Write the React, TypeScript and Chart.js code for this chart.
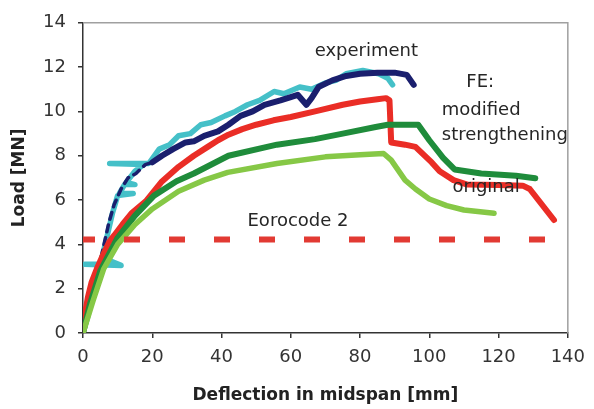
import React, { useEffect, useRef } from "react";
import { Chart, registerables } from "chart.js";

Chart.register(...registerables);

// Axis ranges / ticks
const xMin = 0, xMax = 140, xStep = 20;
const yMin = 0, yMax = 14, yStep = 2;

// FE (red) curve
const redX = [0, 0.5, 1.4, 2.5, 4, 6, 7.7, 9, 11.4, 14, 18.2, 22.8, 27.6, 32, 36, 39, 42, 46, 50, 55, 60, 67, 75, 80, 85, 87.5, 88.5, 89, 93, 96, 100.7, 103, 107, 111, 120, 127, 129, 132, 136];
const redY = [0, 0.8, 1.6, 2.3, 2.9, 3.6, 4.15, 4.4, 4.9, 5.4, 5.95, 6.84, 7.5, 8.0, 8.4, 8.7, 8.95, 9.2, 9.4, 9.6, 9.75, 10.0, 10.3, 10.45, 10.55, 10.6, 10.5, 8.6, 8.5, 8.4, 7.7, 7.3, 6.9, 6.7, 6.68, 6.65, 6.5, 5.9, 5.1];

// FE strengthening (dark green)
const darkGreenX = [0, 2, 5, 10, 15, 20.5, 27, 32, 42, 56, 67, 75, 84.5, 88, 96.8, 100, 104, 107.3, 115, 125, 130.6];
const darkGreenY = [0, 1.3, 2.8, 4.3, 5.3, 6.2, 6.85, 7.2, 8.0, 8.5, 8.75, 9.0, 9.3, 9.4, 9.4, 8.7, 7.9, 7.38, 7.2, 7.1, 6.98];

// FE original (light green)
const lightGreenX = [0, 3, 6, 10, 15, 20, 27.6, 35, 41.8, 56, 70, 80, 86.8, 89, 93, 96, 100, 105, 110, 118.7];
const lightGreenY = [0, 1.5, 2.9, 4.0, 4.9, 5.6, 6.4, 6.9, 7.25, 7.65, 7.95, 8.05, 8.1, 7.8, 6.9, 6.5, 6.05, 5.75, 5.55, 5.4];

// Experiment (navy)
const navyX = [0, 1.5, 3, 4, 5.5, 6.5, 7.5, 9, 11, 13, 15.3, 18, 20, 22.8, 26, 29.6, 32, 35, 39, 42, 45.5, 49, 52.4, 57, 60, 62, 64.5, 66, 68, 72, 76, 80, 85, 90, 93.5, 95.5];
const navyY = [0, 0.8, 1.8, 2.6, 3.6, 4.3, 5.0, 5.8, 6.5, 7.0, 7.2, 7.6, 7.7, 8.0, 8.3, 8.6, 8.65, 8.9, 9.1, 9.4, 9.8, 10.0, 10.3, 10.5, 10.65, 10.75, 10.3, 10.6, 11.1, 11.4, 11.6, 11.7, 11.75, 11.75, 11.65, 11.2];

// Experiment (cyan)
const cyanX = [0, 1.5, 2.5, 3.5, 4.5, 0.5, 11, 5.5, 7, 8.5, 10, 14.5, 10.5, 12, 15, 12.5, 15, 17.5, 7.7, 19, 22, 25, 27.6, 31, 34, 37, 41, 44, 47.5, 51, 55.2, 58, 62.6, 66, 70.3, 73, 76, 80.8, 85.4, 88, 89.4];
const cyanY = [0, 0.8, 1.6, 2.4, 3.1, 3.1, 3.05, 3.4, 4.4, 5.4, 6.2, 6.3, 6.3, 6.7, 6.7, 6.8, 7.3, 7.6, 7.65, 7.65, 8.3, 8.5, 8.9, 9.0, 9.4, 9.5, 9.8, 10.0, 10.3, 10.5, 10.9, 10.8, 11.1, 11.0, 11.3, 11.4, 11.7, 11.85, 11.7, 11.5, 11.2];

// Eurocode 2 level
const eurocodeX = [0, 140];
const eurocodeY = [4.22, 4.22];

// Annotation labels (data coords of left/middle anchor)
const noteTexts = ["experiment", "FE:", "modified", "strengthening", "original", "Eorocode 2"];
const noteX = [66.9, 110.7, 103.6, 103.6, 106.7, 47.5];
const noteY = [12.7, 11.3, 10.06, 8.94, 6.57, 5.05];

const zip = (xs: number[], ys: number[]) => xs.map((x, i) => ({ x, y: ys[i] }));

const FONT = "'DejaVu Sans', sans-serif";

const frameAndNotes = {
  id: "frameAndNotes",
  afterDatasetsDraw(chart: any) {
    const { ctx, chartArea, scales } = chart;
    ctx.save();
    ctx.strokeStyle = "#a0a0a0";
    ctx.lineWidth = 1.5;
    ctx.beginPath();
    ctx.moveTo(chartArea.left, chartArea.top);
    ctx.lineTo(chartArea.right, chartArea.top);
    ctx.lineTo(chartArea.right, chartArea.bottom);
    ctx.stroke();
    ctx.fillStyle = "#262626";
    ctx.font = `18px ${FONT}`;
    ctx.textAlign = "left";
    ctx.textBaseline = "middle";
    noteTexts.forEach((t, i) => {
      const px = scales.x.getPixelForValue(noteX[i]);
      const py = scales.y.getPixelForValue(noteY[i]);
      ctx.fillText(t, px, py);
    });
    ctx.restore();
  },
};

export default function App() {
  const ref = useRef<HTMLCanvasElement>(null);
  useEffect(() => {
    if (!ref.current) return;
    const lineDs = (label: string, xs: number[], ys: number[], color: string, width: number) => ({
      label,
      data: zip(xs, ys),
      borderColor: color,
      backgroundColor: color,
      borderWidth: width,
      pointRadius: 0,
      tension: 0,
      fill: false,
      borderJoinStyle: "round" as const,
      borderCapStyle: "round" as const,
    });
    const chart = new Chart(ref.current, {
      type: "line",
      data: {
        datasets: [
          {
            ...lineDs("Eurocode 2", eurocodeX, eurocodeY, "#e23a33", 6),
            borderDash: [16, 29],
            borderDashOffset: 4,
            borderCapStyle: "butt" as const,
          },
          lineDs("FE original", lightGreenX, lightGreenY, "#86c846", 5.5),
          lineDs("FE strengthening", darkGreenX, darkGreenY, "#1f8c3b", 6),
          lineDs("FE modified", redX, redY, "#ea2d26", 6),
          {
            ...lineDs("experiment 1", navyX, navyY, "#1a1f6e", 6),
            segment: {
              borderWidth: (c: any) => (c.p0.parsed.x < 20 ? 3.5 : 6),
              borderDash: (c: any) => (c.p0.parsed.x < 20 ? [7, 6] : undefined),
            },
          },
          lineDs("experiment 2", cyanX, cyanY, "#45c0c8", 5.5),
        ],
      },
      options: {
        animation: false,
        responsive: true,
        maintainAspectRatio: false,
        layout: { padding: { left: 0, top: 20, right: 19, bottom: 0 } },
        plugins: { legend: { display: false }, tooltip: { enabled: false } },
        scales: {
          x: {
            type: "linear",
            min: xMin,
            max: xMax,
            ticks: { stepSize: xStep, color: "#333", font: { family: FONT, size: 18 }, padding: 9, maxRotation: 0 },
            grid: { drawOnChartArea: false, drawTicks: true, tickLength: 5, color: "#333", lineWidth: 1.5 },
            border: { display: true, color: "#333", width: 1.5 },
            title: {
              display: true,
              text: "Deflection in midspan [mm]",
              color: "#222",
              font: { family: FONT, size: 17, weight: "bold" },
              padding: { top: 0, bottom: 3 },
            },
            afterFit: (s: any) => { s.height = 76; },
          },
          y: {
            type: "linear",
            min: yMin,
            max: yMax,
            ticks: { stepSize: yStep, color: "#333", font: { family: FONT, size: 18 }, padding: 12 },
            grid: { drawOnChartArea: false, drawTicks: true, tickLength: 5, color: "#333", lineWidth: 1.5 },
            border: { display: true, color: "#333", width: 1.5 },
            title: {
              display: true,
              text: "Load [MN]",
              color: "#222",
              font: { family: FONT, size: 17, weight: "bold" },
              padding: { top: 9, bottom: 0 },
            },
            afterFit: (s: any) => { s.width = 83; },
          },
        },
      },
      plugins: [frameAndNotes],
    });
    return () => chart.destroy();
  }, []);
  return (
    <div style={{ position: "fixed", left: 0, top: 0, width: 594, height: 409, background: "#fff" }}>
      <canvas ref={ref} />
    </div>
  );
}
